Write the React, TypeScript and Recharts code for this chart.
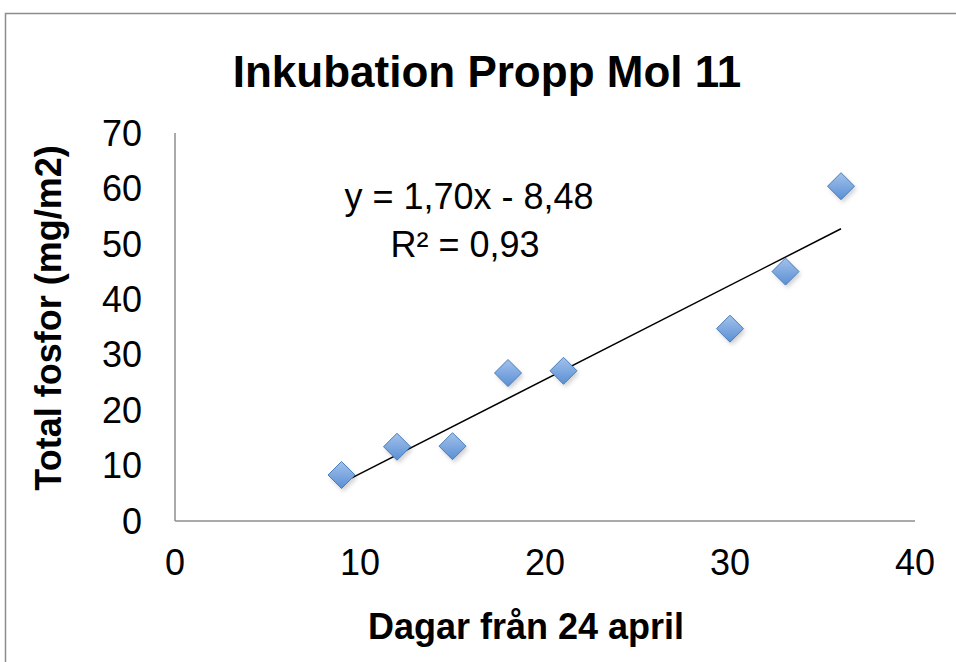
import React from "react";
import { ScatterChart, Scatter, XAxis, YAxis } from "recharts";

// days since 24 April and measured total phosphorus
const days = [9, 12, 15, 18, 21, 30, 33, 36];
const fosfor = [8.3, 13.4, 13.5, 26.7, 27.1, 34.7, 45.0, 60.4];
const xTicks = [0, 10, 20, 30, 40];
const yTicks = [0, 10, 20, 30, 40, 50, 60, 70];

// trendline as reported on the chart
const slope = 1.7;
const intercept = -8.48;
const trendX = [9, 36];

const points = days.map((d, i) => ({ x: d, y: fosfor[i] }));
const trend = trendX.map((x) => ({ x, y: slope * x + intercept }));

const FONT = "'Liberation Sans', Arial, sans-serif";

function Diamond(props: any) {
  const { cx, cy } = props;
  if (cx == null || cy == null) return <g />;
  const r = 13.5;
  const d = `M${cx},${cy - r} L${cx + r},${cy} L${cx},${cy + r} L${cx - r},${cy} Z`;
  return (
    <g>
      <path d={d} transform="translate(2,3)" fill="rgba(0,0,0,0.18)" filter="url(#shadowBlur)" />
      <path d={d} fill="url(#diamondFill)" stroke="#4a7ebb" strokeWidth={1} />
    </g>
  );
}

const Nothing = () => <g />;

export default function App() {
  return (
    <div style={{ position: "absolute", left: 0, top: 0, width: 956, height: 662, background: "#fff" }}>
      <ScatterChart width={956} height={662} margin={{ top: 133, right: 41, bottom: 0, left: 0 }}>
        <defs>
          <linearGradient id="diamondFill" x1="0" y1="0" x2="0" y2="1">
            <stop offset="0%" stopColor="#a3c2eb" />
            <stop offset="100%" stopColor="#5a8fd4" />
          </linearGradient>
          <filter id="shadowBlur" x="-50%" y="-50%" width="200%" height="200%">
            <feGaussianBlur stdDeviation="2" />
          </filter>
        </defs>
        <rect x={5.5} y={13.5} width={1000} height={1000} fill="none" stroke="#8c8c8c" strokeWidth={1.5} />
        <text x={487} y={87} textAnchor="middle" fontFamily={FONT} fontWeight="bold" fontSize={44} fill="#000">
          Inkubation Propp Mol 11
        </text>
        <text x={61} y={318} transform="rotate(-90, 61, 318)" textAnchor="middle" fontFamily={FONT} fontWeight="bold" fontSize={36} fill="#000">
          Total fosfor (mg/m2)
        </text>
        <text x={526} y={639} textAnchor="middle" fontFamily={FONT} fontWeight="bold" fontSize={36} fill="#000">
          Dagar från 24 april
        </text>
        <text x={469} y={209} textAnchor="middle" fontFamily={FONT} fontSize={36} fill="#000">
          y = 1,70x - 8,48
        </text>
        <text x={465} y={257} textAnchor="middle" fontFamily={FONT} fontSize={36} fill="#000">
          R² = 0,93
        </text>
        <XAxis
          type="number"
          dataKey="x"
          domain={[0, 40]}
          ticks={xTicks}
          height={141}
          tickSize={0}
          tickMargin={28}
          axisLine={{ stroke: "#8e8e8e", strokeWidth: 1.5 }}
          tickLine={false}
          tick={{ fontSize: 36, fill: "#000", fontFamily: FONT }}
        />
        <YAxis
          type="number"
          dataKey="y"
          domain={[0, 70]}
          ticks={yTicks}
          width={175}
          tickSize={0}
          tickMargin={33}
          axisLine={{ stroke: "#8e8e8e", strokeWidth: 1.5 }}
          tickLine={false}
          tick={{ fontSize: 36, fill: "#000", fontFamily: FONT }}
        />
        <Scatter data={trend} line={{ stroke: "#000", strokeWidth: 1.5 }} lineType="joint" shape={<Nothing />} isAnimationActive={false} />
        <Scatter data={points} shape={<Diamond />} isAnimationActive={false} />
      </ScatterChart>
    </div>
  );
}
